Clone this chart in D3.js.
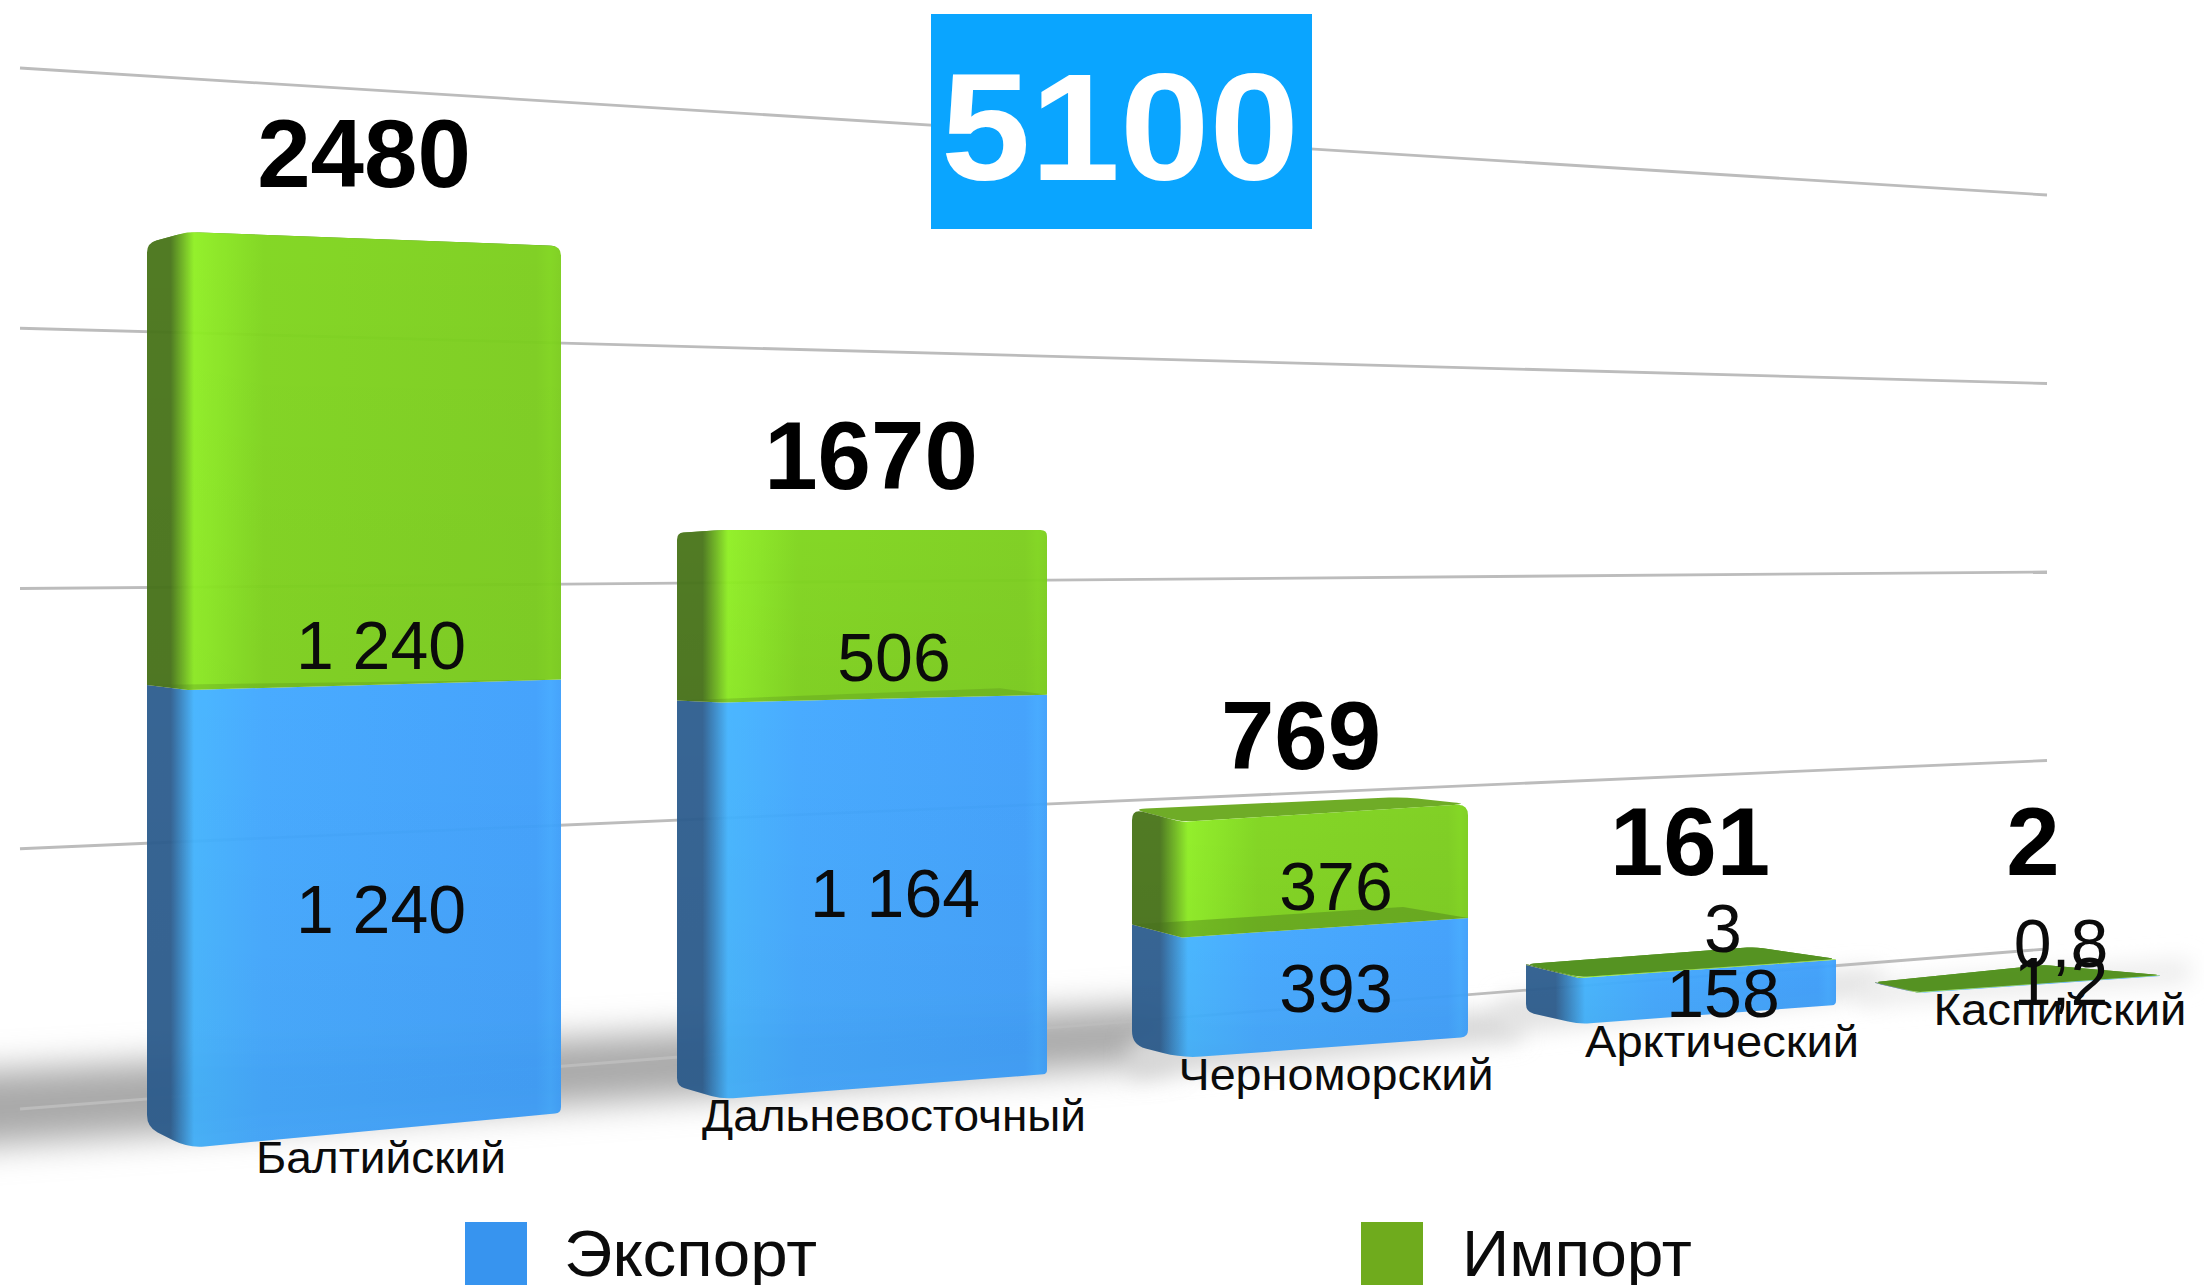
<!DOCTYPE html>
<html lang="ru">
<head>
<meta charset="utf-8">
<style>
html,body{margin:0;padding:0;background:#fff;overflow:hidden}
text{font-family:"Liberation Sans",Arial,sans-serif;fill:#000}
</style>
<script src="https://cdn.jsdelivr.net/npm/d3@7/dist/d3.min.js"></script>
</head>
<body>
<script>
// ---------- data ----------
const categories   = ["Балтийский","Дальневосточный","Черноморский","Арктический","Каспийский"];
const exportValues = [1240,1164,393,158,1.2];
const importValues = [1240,506,376,3,0.8];
const exportLabels = ["1 240","1 164","393","158","1,2"];
const importLabels = ["1 240","506","376","3","0,8"];
const totalLabels  = ["2480","1670","769","161","2"];
const grandTotal   = "5100";
const gridValues   = [0,750,1500,2250,3000];
const seriesNames  = ["Экспорт","Импорт"];

// ---------- layout (perspective frames, not data) ----------
const W = 2204, H = 1285;
// each bar: four vertical edges [x, y at value 0, y at the bar's total]
const frames = [
  {left:[147,1127,243],  front:[188,1148,232],  right:[561,1113,246],  back:[520,1098,262], r:12},
  {left:[677,1086,533],  front:[722,1099,530],  right:[1047,1074,530], back:[1000,1052,530], r:8},
  {left:[1132,1045,809], front:[1182,1058,822], right:[1468,1037,804], back:[1403,1022,797], r:14},
  {left:[1526,1012,964], front:[1579,1024,977], right:[1836,1005,959], back:[1755,993,947], r:8},
  {left:[1875,983,982],  front:[1917,993,992],  right:[2160,976,975],  back:[2044,966,965], r:6}
];
const totalPos    = [[364,187],[871,489],[1301,769],[1690,875],[2033,875]];
const exportPos   = [[381,933],[895,917],[1336,1012],[1723,1017],[2061,1005]];
const importPos   = [[381,669],[894,681],[1336,910],[1723,952],[2061,967]];
const categoryPos = [[381,1173,250],[894,1131,384],[1336,1090,315],[1722,1057,274],[2060,1025,253]];

const svg = d3.select("body").append("svg").attr("width",W).attr("height",H).style("display","block");
const defs = svg.append("defs");

defs.append("filter").attr("id","blurA").attr("x","-20%").attr("y","-100%").attr("width","140%").attr("height","300%")
  .append("feGaussianBlur").attr("stdDeviation",17);
defs.append("filter").attr("id","blurB").attr("x","-20%").attr("y","-100%").attr("width","140%").attr("height","300%")
  .append("feGaussianBlur").attr("stdDeviation",11);

// floor shadows
const poly = d3.line();
svg.append("path").attr("d",poly([[-80,1075],[1170,1005],[1170,1062],[-80,1150]]) + "Z")
  .attr("fill","#a9a9a9").attr("filter","url(#blurA)");
svg.append("path").attr("d",poly([[1130,1040],[1520,1008],[1520,1040],[1130,1078]]) + "Z")
  .attr("fill","#d8d8d8").attr("filter","url(#blurB)");
svg.append("path").attr("d",poly([[1500,998],[1880,968],[1880,995],[1500,1034]]) + "Z")
  .attr("fill","#e2e2e2").attr("filter","url(#blurB)");
svg.append("path").attr("d",poly([[1860,983],[2190,960],[2190,982],[1860,1006]]) + "Z")
  .attr("fill","#ebebeb").attr("filter","url(#blurB)");

// grid: converging perspective lines
const gridLeft  = d3.scaleLinear().domain([0,3000]).range([1109,68]);
const gridRight = d3.scaleLinear().domain([0,3000]).range([949,195]);
svg.append("g").selectAll("line").data(gridValues).join("line")
  .attr("x1",20).attr("x2",2047)
  .attr("y1",d=>gridLeft(d)).attr("y2",d=>gridRight(d))
  .attr("stroke","#bcbcbc").attr("stroke-width",2.8);

// rounded polygon helper: points are [x,y,radius]
function rounded(points){
  const n = points.length; let d = "";
  points.forEach((p,i)=>{
    const a = points[(i-1+n)%n], b = points[(i+1)%n], r = p[2]||0;
    const la = Math.hypot(a[0]-p[0],a[1]-p[1])||1, lb = Math.hypot(b[0]-p[0],b[1]-p[1])||1;
    const ra = Math.min(r,la/2), rb = Math.min(r,lb/2);
    const s = [p[0]+(a[0]-p[0])*ra/la, p[1]+(a[1]-p[1])*ra/la];
    const e = [p[0]+(b[0]-p[0])*rb/lb, p[1]+(b[1]-p[1])*rb/lb];
    d += (i?"L":"M")+s[0]+","+s[1]+"Q"+p[0]+","+p[1]+" "+e[0]+","+e[1];
  });
  return d+"Z";
}

const palette = {
  export:{dark:"#2f5f90",bright:"#44b4ff",mid:"#42a8ff",end:"#3fa0fc",top:"#3f9cf0"},
  import:{dark:"#4a761c",bright:"#90f024",mid:"#80d61e",end:"#7ccf1e",top:"#4f8f1a"}
};

// vertical shade laid over each face
const shade = defs.append("linearGradient").attr("id","shade").attr("x1",0).attr("x2",0).attr("y1",0).attr("y2",1);
shade.append("stop").attr("offset",0).attr("stop-color","#000").attr("stop-opacity",0);
shade.append("stop").attr("offset",1).attr("stop-color","#000").attr("stop-opacity",0.035);

const barsG = svg.append("g");
frames.forEach((f,i)=>{
  const total = exportValues[i]+importValues[i];
  const edge = e => d3.scaleLinear().domain([0,total]).range([e[1],e[2]]);
  const yL = edge(f.left), yF = edge(f.front), yR = edge(f.right), yB = edge(f.back);
  const g = barsG.append("g").attr("opacity",0.96);

  const grad = (key)=>{
    const c = palette[key], id = "g"+key+i;
    const span = f.right[0]-f.left[0], cx = f.front[0]+6-f.left[0];
    const lg = defs.append("linearGradient").attr("id",id).attr("gradientUnits","userSpaceOnUse")
      .attr("x1",f.left[0]).attr("x2",f.right[0]).attr("y1",0).attr("y2",0);
    [[0,c.dark],[cx*0.5/span,c.dark],[cx/span,c.bright],[(cx+70)/span,c.mid],[0.94,c.end],[0.975,c.mid],[1,c.end]]
      .forEach(s=>lg.append("stop").attr("offset",s[0]).attr("stop-color",s[1]));
    return "url(#"+id+")";
  };

  const face = (v0,v1,key,r0,r1)=>{
    const pts = [
      [f.left[0],yL(v0),r0],[f.front[0],yF(v0),r0*1.4],[f.right[0],yR(v0),r0*0.5],
      [f.right[0],yR(v1),r1],[f.front[0],yF(v1),r1*0.6],[f.left[0],yL(v1),r1]
    ];
    g.append("path").attr("d",rounded(pts)).attr("fill",grad(key));
    g.append("path").attr("d",rounded(pts)).attr("fill","url(#shade)");
  };

  const topFace = rounded([
    [f.left[0],yL(total),f.r],[f.back[0],yB(total),f.r],[f.right[0],yR(total),f.r],[f.front[0],yF(total),f.r]
  ]);
  // top surface, behind the faces
  g.append("path").attr("d",topFace).attr("fill",i===2 ? "#6aa91f" : palette.import.top);

  const E = exportValues[i];
  face(0,E,"export",f.r,0);
  face(E,total,"import",0,f.r*0.8);

  // inner surface of the export block, seen through the import block
  if (i<=2) {
    g.append("path").attr("d",poly([
      [f.left[0],yL(E)],[f.back[0],yB(E)],[f.right[0],yR(E)],[f.front[0],yF(E)]
    ])+"Z").attr("fill","#3f6d10").attr("fill-opacity",i===2?0.38:0.22);
  }
  // very thin import block: its top covers the face
  if (i>=3) g.append("path").attr("d",topFace).attr("fill",palette.import.top);
});

// texts
const labels = svg.append("g").attr("text-anchor","middle");
const put = (txt,pos,size,weight)=> labels.append("text").attr("x",pos[0]).attr("y",pos[1])
  .attr("font-size",size).attr("font-weight",weight||400).text(txt);
const dark = "#0b0b0b";

importLabels.forEach((t,i)=>put(t,importPos[i],68).style("fill",dark));
exportLabels.forEach((t,i)=>put(t,exportPos[i],68).style("fill",dark));
totalLabels.forEach((t,i)=>put(t,totalPos[i],96,700));
categories.forEach((t,i)=>{
  put(t,categoryPos[i],45).attr("textLength",categoryPos[i][2]).attr("lengthAdjust","spacingAndGlyphs").style("fill",dark);
});

// headline figure
svg.append("rect").attr("x",931).attr("y",14).attr("width",381).attr("height",215).attr("fill","#0aa5ff");
svg.append("text").attr("x",1120).attr("y",180).attr("text-anchor","middle")
  .attr("font-size",153).attr("font-weight",700)
  .attr("textLength",358).attr("lengthAdjust","spacingAndGlyphs")
  .style("fill","#fff").text(grandTotal);

// legend
const legend = [[465,"#3794ef",564,253],[1361,"#6fab1d",1462,230]];
seriesNames.forEach((name,i)=>{
  const [x,c,tx,tw] = legend[i];
  svg.append("rect").attr("x",x).attr("y",1222).attr("width",62).attr("height",63).attr("fill",c);
  svg.append("text").attr("x",tx).attr("y",1276).attr("font-size",64)
    .attr("textLength",tw).attr("lengthAdjust","spacingAndGlyphs").style("fill",dark).text(name);
});
</script>
</body>
</html>
